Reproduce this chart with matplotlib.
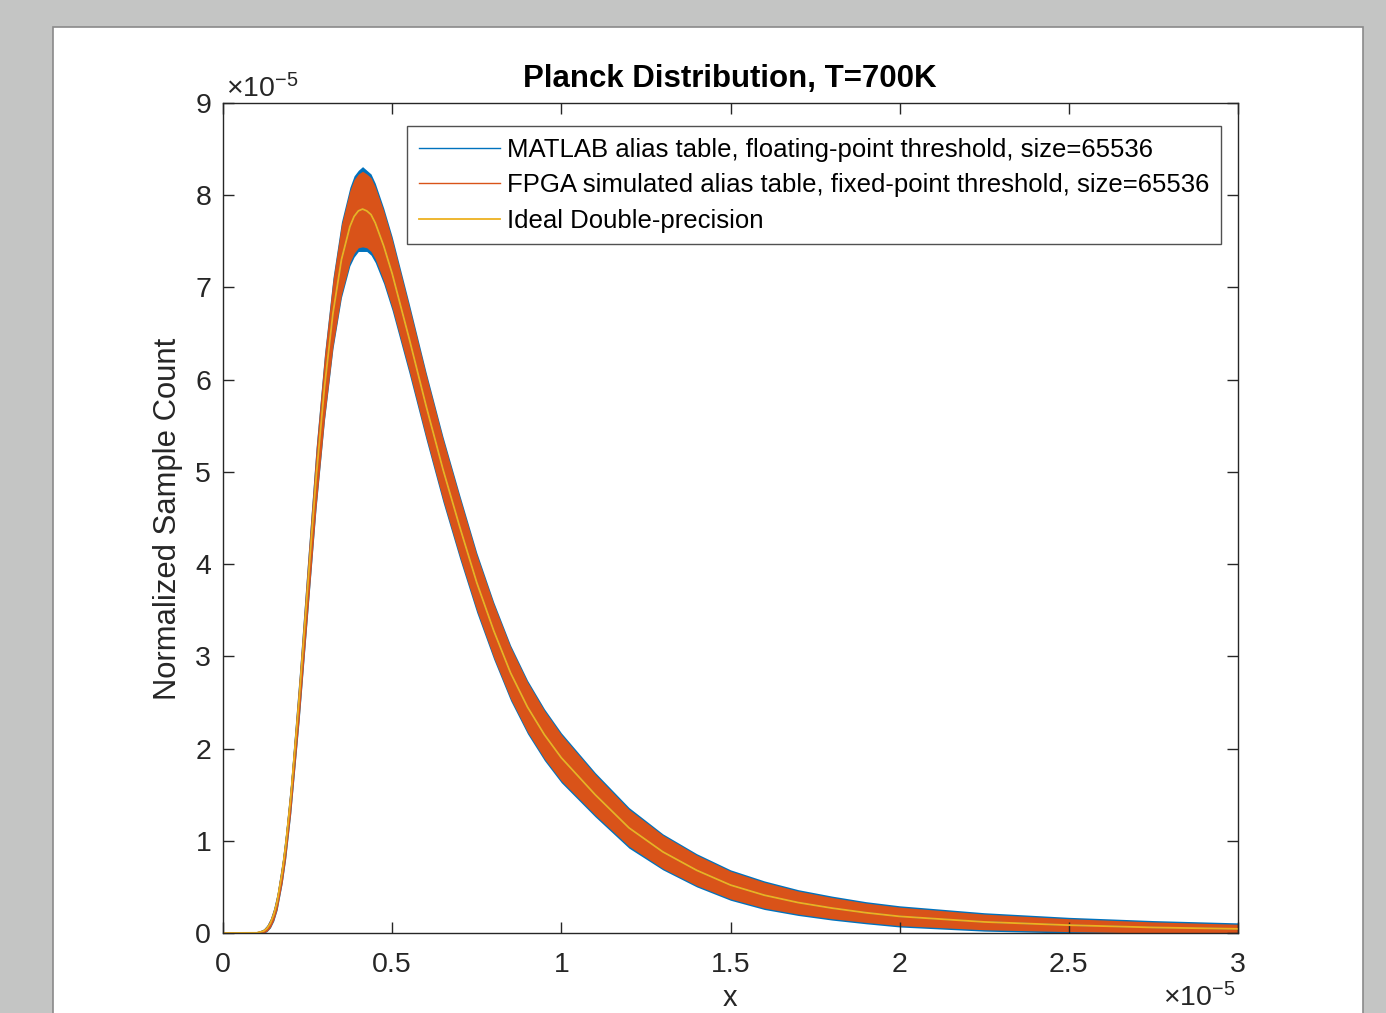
import matplotlib
matplotlib.use("Agg")
import matplotlib.pyplot as plt
from matplotlib.patches import Rectangle

plt.rcParams['font.family'] = ['Liberation Sans', 'DejaVu Sans']
plt.rcParams['mathtext.fontset'] = 'custom'
plt.rcParams['mathtext.rm'] = 'Liberation Sans'
plt.rcParams['mathtext.it'] = 'Liberation Sans'

# длина волны, в единицах 1e-5
x_vals = [0.0, 0.10, 0.12, 0.13, 0.14, 0.15, 0.16, 0.175, 0.185, 0.20, 0.225, 0.25,
          0.275, 0.30, 0.325, 0.35, 0.375, 0.3875, 0.40, 0.4125, 0.425, 0.4375, 0.45,
          0.475, 0.50, 0.55, 0.60, 0.65, 0.70, 0.75, 0.80, 0.85, 0.90, 0.95, 1.0,
          1.1, 1.2, 1.3, 1.4, 1.5, 1.6, 1.7, 1.8, 1.9, 2.0, 2.25, 2.5, 2.75, 3.0]
# идеальная кривая, в единицах 1e-5
ideal = [0.0, 0.002, 0.02, 0.05, 0.106, 0.20, 0.34, 0.66, 0.94, 1.46, 2.54, 3.74,
         4.93, 5.92, 6.72, 7.30, 7.66, 7.77, 7.83, 7.85, 7.83, 7.79, 7.70,
         7.45, 7.15, 6.45, 5.72, 5.03, 4.40, 3.80, 3.28, 2.82, 2.45, 2.15, 1.90,
         1.50, 1.14, 0.88, 0.68, 0.52, 0.41, 0.33, 0.27, 0.22, 0.18, 0.12, 0.085, 0.06, 0.045]
# разброс шума (полуширина полосы) для FPGA и MATLAB
fpga_spread = [0.0, 0.006, 0.02, 0.03, 0.045, 0.06, 0.08, 0.11, 0.13, 0.16, 0.22, 0.27,
               0.31, 0.34, 0.36, 0.38, 0.39, 0.40, 0.40, 0.41, 0.40, 0.40, 0.39,
               0.38, 0.37, 0.35, 0.34, 0.33, 0.32, 0.30, 0.29, 0.28, 0.27, 0.26, 0.25,
               0.22, 0.20, 0.18, 0.165, 0.15, 0.14, 0.125, 0.115, 0.105, 0.10, 0.085, 0.07,
               0.06, 0.05]
matlab_spread = [0.0, 0.008, 0.024, 0.035, 0.05, 0.07, 0.09, 0.12, 0.145, 0.175, 0.24, 0.29,
                 0.33, 0.36, 0.385, 0.41, 0.425, 0.44, 0.44, 0.46, 0.44, 0.44, 0.43,
                 0.41, 0.40, 0.38, 0.365, 0.355, 0.345, 0.325, 0.31, 0.30, 0.29, 0.28, 0.27,
                 0.24, 0.22, 0.195, 0.18, 0.165, 0.155, 0.14, 0.13, 0.12, 0.115, 0.10, 0.085,
                 0.075, 0.065]

labels = ['MATLAB alias table, floating-point threshold, size=65536',
          'FPGA simulated alias table, fixed-point threshold, size=65536',
          'Ideal Double-precision']
c_blue, c_orange, c_yellow = '#0072BD', '#D95319', '#EDB120'
ink = '#262626'

W, H = 1386, 1013
fig = plt.figure(figsize=(W / 100, H / 100), dpi=100, facecolor='#c4c5c4')
fig.patches.append(Rectangle((53 / W, -0.05), (1363 - 53) / W, 1.05 - 27 / H,
                             transform=fig.transFigure, facecolor='white',
                             edgecolor='#8a8a8a', linewidth=1.2, zorder=-5))

ax = fig.add_axes([223 / W, 1 - 933 / H, 1015 / W, 830 / H])

lo_m = [y - s for y, s in zip(ideal, matlab_spread)]
hi_m = [y + s for y, s in zip(ideal, matlab_spread)]
lo_f = [y - s for y, s in zip(ideal, fpga_spread)]
hi_f = [y + s for y, s in zip(ideal, fpga_spread)]

ax.plot(x_vals, ideal, color=c_blue, lw=1, label=labels[0])
ax.fill_between(x_vals, lo_m, hi_m, color=c_blue, lw=0)
ax.plot(x_vals, ideal, color=c_orange, lw=1, label=labels[1])
ax.fill_between(x_vals, lo_f, hi_f, color=c_orange, lw=0)
ax.plot(x_vals, ideal, color=c_yellow, lw=1.3, label=labels[2])

ax.set_xlim(0, 3)
ax.set_ylim(0, 9)
ax.set_xticks([0, 0.5, 1, 1.5, 2, 2.5, 3])
ax.set_xticklabels(['0', '0.5', '1', '1.5', '2', '2.5', '3'])
ax.set_yticks(range(10))
ax.tick_params(direction='in', length=8, width=1, colors=ink, labelsize=20.5,
               top=True, right=True)
ax.tick_params(axis='x', pad=14)
ax.tick_params(axis='y', pad=8.5)
for sp in ax.spines.values():
    sp.set_color(ink)
    sp.set_linewidth(1)

fig.text(730 / W, 1 - 79 / H, 'Planck Distribution, T=700K', ha='center', va='center',
         fontsize=22.5, fontweight='bold', color='black')
fig.text(168 / W, 1 - 519 / H, 'Normalized Sample Count', rotation=90, ha='center',
         va='center', fontsize=22.3, color=ink)
fig.text(730 / W, 1 - 1012 / H, 'x', ha='center', va='bottom', fontsize=21, color=ink)
fig.text(226 / W, 1 - 97 / H, r'$\times10^{-5}$', ha='left', va='baseline', fontsize=20.5,
         color=ink)
fig.text(1163 / W, 1 - 1012 / H, r'$\times10^{-5}$', ha='left', va='bottom', fontsize=20.5,
         color=ink)

leg = ax.legend(loc='upper left', bbox_to_anchor=(407 / W, 1 - 126 / H),
                bbox_transform=fig.transFigure, fontsize=18.5, frameon=True, fancybox=False,
                handlelength=3.17, handletextpad=0.28, labelspacing=0.45, borderpad=0.45,
                borderaxespad=0)
leg.get_frame().set_edgecolor(ink)
leg.get_frame().set_linewidth(1)

fig.savefig('out.png', dpi=100, facecolor=fig.get_facecolor())
